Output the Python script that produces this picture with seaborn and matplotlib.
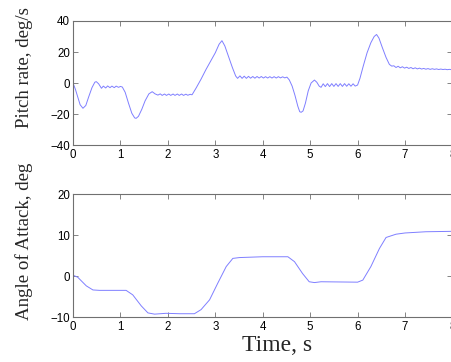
import numpy as np
import pandas as pd
import matplotlib
matplotlib.use("Agg")
import matplotlib.pyplot as plt
import seaborn as sns

# pitch rate (deg/s)
pitch_t = [0.0, 0.05, 0.1, 0.15, 0.21, 0.27, 0.33, 0.4, 0.46, 0.49, 0.54, 0.6,
           0.64, 0.69, 0.73, 0.78, 0.82, 0.87, 0.91, 0.96, 1.0, 1.04,
           1.1, 1.17, 1.24, 1.3, 1.33, 1.38, 1.45, 1.52, 1.6, 1.67, 1.73, 1.79,
           1.84, 1.88, 1.93, 1.97, 2.02, 2.06, 2.11, 2.15, 2.2, 2.24, 2.29, 2.33,
           2.38, 2.42, 2.47, 2.51,
           2.6, 2.7, 2.8, 2.9, 3.0, 3.08, 3.14, 3.2, 3.28, 3.36, 3.43, 3.47,
           3.52, 3.565, 3.61, 3.655, 3.7, 3.745, 3.79, 3.835, 3.88, 3.925, 3.97,
           4.015, 4.06, 4.105, 4.15, 4.195, 4.24, 4.285, 4.33, 4.375, 4.42, 4.465, 4.51,
           4.56, 4.62, 4.68, 4.74, 4.78, 4.81, 4.85, 4.9, 4.96, 5.02, 5.09, 5.14, 5.19, 5.23,
           5.275, 5.32, 5.365, 5.41, 5.455, 5.5, 5.545, 5.59, 5.635, 5.68, 5.725, 5.77,
           5.815, 5.86, 5.905, 5.95, 6.0,
           6.05, 6.12, 6.2, 6.28, 6.35, 6.4, 6.45, 6.52, 6.6, 6.67, 6.72,
           6.765, 6.81, 6.855, 6.9, 6.945, 6.99, 7.035, 7.08, 7.125, 7.17, 7.215, 7.26,
           7.305, 7.35, 7.395, 7.44, 7.485, 7.53, 7.575, 7.62, 7.665, 7.71, 7.755, 7.8,
           7.845, 7.89, 7.935, 7.98, 8.0]
pitch_rate = [0.0, -4, -9, -14, -16.3, -14.5, -9, -3, 0.5, 0.9, -0.5, -3.4,
              -2.0, -3.2, -1.9, -3.0, -2.0, -3.0, -2.0, -2.8, -2.2, -2.6,
              -6, -13, -19.5, -22.5, -22.8, -21.5, -17, -11.5, -7, -5.6, -7, -7.8,
              -7.0, -8.0, -7.1, -8.0, -7.1, -8.0, -7.1, -8.0, -7.1, -8.0, -7.1, -8.0,
              -7.2, -7.9, -7.3, -7.6,
              -3, 2.5, 8.5, 14, 19.5, 25, 27.3, 24, 17, 10, 4.5, 3.0,
              4.6, 3.0, 4.4, 3.0, 4.3, 3.1, 4.2, 3.1, 4.2, 3.2, 4.2,
              3.2, 4.1, 3.2, 4.1, 3.2, 4.1, 3.2, 4.1, 3.3, 4.0, 3.3, 3.8,
              2, -2, -8, -15, -18.5, -18.9, -18, -13, -5, 0, 1.9, 0.5, -2.0, -2.8,
              -0.5, -2.3, -0.4, -2.3, -0.4, -2.2, -0.4, -2.2, -0.4, -2.2, -0.4, -2.1,
              -0.5, -2.1, -0.5, -2.0, -1.3,
              3, 11, 19.5, 26, 30, 31.3, 29, 23, 16.5, 12, 10.9,
              11.1, 10.0, 10.8, 9.8, 10.5, 9.6, 10.2, 9.4, 10.0, 9.2, 9.8, 9.1,
              9.6, 9.0, 9.4, 8.9, 9.3, 8.8, 9.2, 8.8, 9.1, 8.7, 9.0, 8.7,
              8.9, 8.6, 8.8, 8.6, 8.7]

# angle of attack (deg)
aoa_t = [0.0, 0.1, 0.28, 0.42, 0.56, 1.12, 1.26, 1.44, 1.58, 1.72, 1.96, 2.25,
         2.56, 2.7, 2.88, 3.05, 3.23, 3.37, 3.51, 4.0, 4.53, 4.67, 4.84, 4.98,
         5.09, 5.23, 6.0, 6.11, 6.28, 6.46, 6.6, 6.81, 7.0, 7.44, 8.0]
aoa = [0.2, -0.3, -2.4, -3.4, -3.5, -3.5, -4.6, -7.3, -9.0, -9.3, -9.1, -9.2,
       -9.2, -8.2, -5.8, -1.8, 2.3, 4.3, 4.5, 4.7, 4.7, 3.5, 0.6, -1.4,
       -1.6, -1.4, -1.5, -1.0, 2.3, 6.7, 9.4, 10.2, 10.5, 10.8, 10.9]

x_ticks = [0, 1, 2, 3, 4, 5, 6, 7, 8]
pitch_ticks = [-40, -20, 0, 20, 40]
aoa_ticks = [-10, 0, 10, 20]

sns.set_style("ticks")
plt.rcParams['font.family'] = ['Liberation Sans', 'DejaVu Sans']

line_color = '#7f7fff'
frame_color = '#707070'

fig = plt.figure(figsize=(4.52, 3.62), dpi=100)
ax1 = fig.add_axes([0.1615, 0.5994, 0.8395, 0.3426])
ax2 = fig.add_axes([0.1615, 0.1243, 0.8395, 0.3397])

df1 = pd.DataFrame({'t': pitch_t, 'q': pitch_rate})
df2 = pd.DataFrame({'t': aoa_t, 'a': aoa})
sns.lineplot(data=df1, x='t', y='q', ax=ax1, color=line_color, linewidth=0.7,
             sort=False, errorbar=None)
sns.lineplot(data=df2, x='t', y='a', ax=ax2, color=line_color, linewidth=0.7,
             sort=False, errorbar=None)

for ax, yt in [(ax1, pitch_ticks), (ax2, aoa_ticks)]:
    ax.set_xlim(0, 8)
    ax.set_ylim(yt[0], yt[-1])
    ax.set_xticks(x_ticks)
    ax.set_yticks(yt)
    ax.tick_params(direction='in', length=3.5, width=0.6, color=frame_color,
                   top=True, right=True, labelsize=8.3, labelcolor='black')
    ax.tick_params(axis='y', pad=2)
    ax.tick_params(axis='x', pad=3)
    for s in ax.spines.values():
        s.set_color(frame_color)
        s.set_linewidth(0.8)
    ax.set_xlabel('')

ax1.set_ylabel('Pitch rate, deg/s', family='Liberation Serif', fontsize=13.6)
ax1.yaxis.set_label_coords(-0.105, 0.625)
ax2.set_ylabel('Angle of Attack, deg', family='Liberation Serif', fontsize=13.6)
ax2.yaxis.set_label_coords(-0.105, 0.618)
ax2.set_xlabel('Time, s', family='Liberation Serif', fontsize=17)
ax2.xaxis.set_label_coords(0.538, -0.146)

fig.savefig('out.png', dpi=100)
